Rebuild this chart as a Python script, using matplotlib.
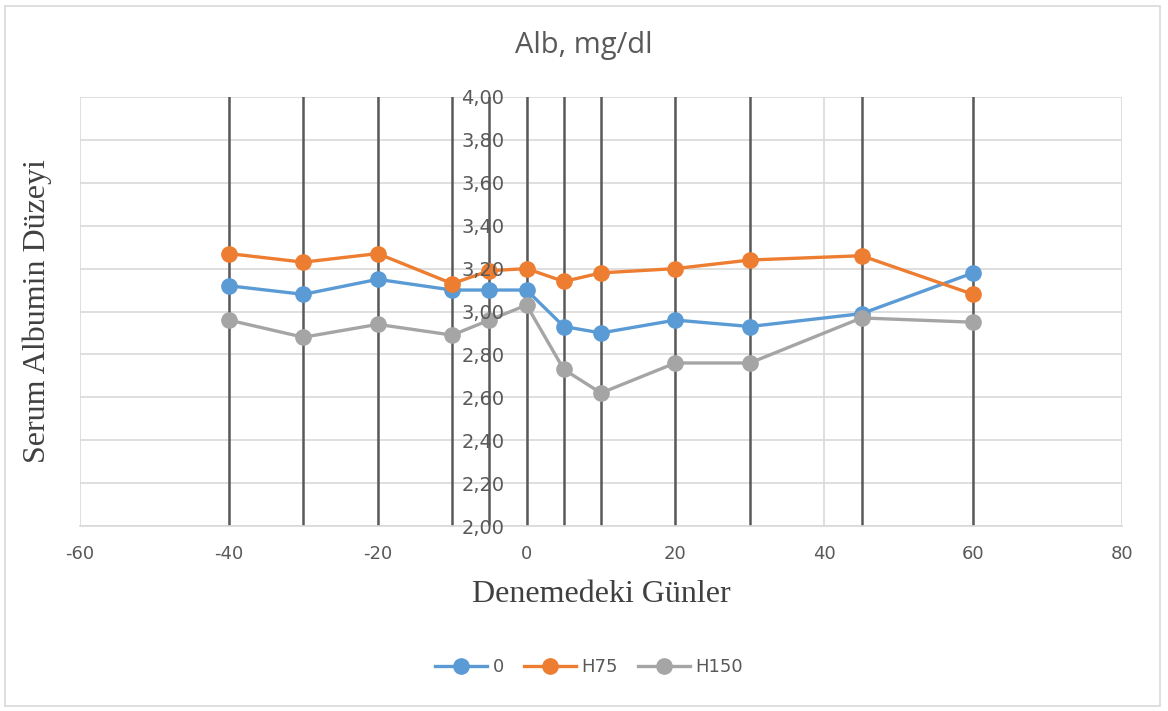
import matplotlib.pyplot as plt
from matplotlib.patches import Rectangle
from matplotlib.ticker import FuncFormatter, MultipleLocator

plt.rcParams['axes.unicode_minus'] = False

# data
days = [-40, -30, -20, -10, -5, 0, 5, 10, 20, 30, 45, 60]
grp_0 = [3.12, 3.08, 3.15, 3.10, 3.10, 3.10, 2.93, 2.90, 2.96, 2.93, 2.99, 3.18]
grp_h75 = [3.27, 3.23, 3.27, 3.13, 3.19, 3.20, 3.14, 3.18, 3.20, 3.24, 3.26, 3.08]
grp_h150 = [2.96, 2.88, 2.94, 2.89, 2.96, 3.03, 2.73, 2.62, 2.76, 2.76, 2.97, 2.95]
series_names = ['0', 'H75', 'H150']
colors = ['#5B9BD5', '#ED7D31', '#A5A5A5']

fig = plt.figure(figsize=(11.68, 7.11), dpi=100)
ax = fig.add_axes([80 / 1168, 1 - 526 / 711, 1042 / 1168, 429 / 711])

# outer chart border
fig.patches.append(Rectangle((5 / 1168, 5 / 711), 1155 / 1168, 700 / 711,
                             transform=fig.transFigure, fill=False,
                             edgecolor='#D9D9D9', lw=1.2))

ax.set_xlim(-60, 80)
ax.set_ylim(2.0, 4.0)
ax.xaxis.set_major_locator(MultipleLocator(20))
ax.yaxis.set_major_locator(MultipleLocator(0.2))
ax.yaxis.set_major_formatter(FuncFormatter(lambda v, p: f'{v:.2f}'.replace('.', ',')))
ax.set_axisbelow(True)
ax.xaxis.grid(True, color='#D9D9D9', lw=1.2)
for yt in ax.get_yticks():
    ax.axhline(yt, color='#D9D9D9', lw=1.2, zorder=0.5)
# y tick labels sit on top of the lines, as in the original
ax.yaxis.set_zorder(4)

# dark vertical lines at each sampling day
for d in days:
    ax.axvline(d, color='#595959', lw=1.8, zorder=1)

for vals, name, c in zip([grp_0, grp_h75, grp_h150], series_names, colors):
    ax.plot(days, vals, color=c, lw=2.4, marker='o', ms=11, label=name, zorder=3)

for s in ['top', 'right']:
    ax.spines[s].set_visible(False)
ax.spines['left'].set_position(('data', 0))
ax.spines['left'].set_visible(False)
ax.spines['bottom'].set_color('#D9D9D9')
ax.spines['bottom'].set_linewidth(1.2)
ax.tick_params(length=0, labelsize=13, labelcolor='#595959')
ax.tick_params(axis='y', labelsize=14, pad=16)
ax.tick_params(axis='x', pad=14)

fig.text(0.5, 1 - 45 / 711, 'Alb, mg/dl', ha='center', va='center',
         fontsize=21, color='#595959', family='Open Sans')
ax.set_xlabel('Denemedeki Günler', family='Liberation Serif', fontsize=23,
              color='#404040', labelpad=12)
fig.text(37 / 1168, 1 - 311 / 711, 'Serum Albumin Düzeyi', rotation=90,
         ha='center', va='center', family='Liberation Serif', fontsize=23,
         color='#404040')

fig.legend(loc='center', bbox_to_anchor=(589 / 1168, 1 - 667 / 711), ncol=3,
           frameon=False, fontsize=13, labelcolor='#595959', handlelength=2.9,
           columnspacing=1.1, handletextpad=0.3)

fig.savefig('out.png', dpi=100)
